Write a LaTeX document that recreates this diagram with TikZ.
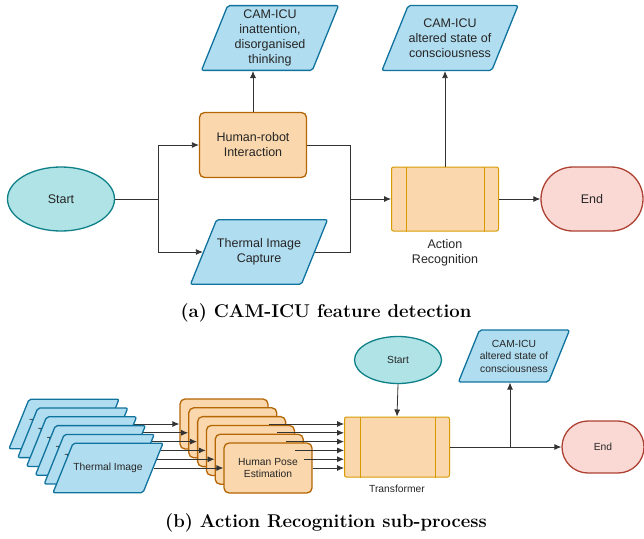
\documentclass[tikz,border=0pt]{standalone}
\usepackage{fontspec}
\setsansfont{Liberation Sans}
\usetikzlibrary{shapes.geometric,arrows.meta}

\definecolor{iofill}{HTML}{B1DDF0}
\definecolor{ioline}{HTML}{10739E}
\definecolor{startfill}{HTML}{B0E3E6}
\definecolor{startline}{HTML}{0E8088}
\definecolor{boxfill}{HTML}{FAD7AC}
\definecolor{boxline}{HTML}{B46504}
\definecolor{procline}{HTML}{D79B00}
\definecolor{endfill}{HTML}{FAD9D5}
\definecolor{endline}{HTML}{AE4132}

\pgfdeclarelayer{back}
\pgfsetlayers{back,main}

\begin{document}
\begin{tikzpicture}[x=1pt, y=-1pt, >={Latex[length=7pt,width=6pt]},
    font=\sffamily\fontsize{12.5}{15}\selectfont, text=black!85,
    line/.style={draw=black!80, line width=0.8pt},
    io/.style={trapezium, trapezium left angle=68, trapezium right angle=112,
        trapezium stretches body, draw=ioline, fill=iofill, line width=1.3pt,
        rounded corners=2pt, align=center, inner xsep=0pt, inner ysep=#1},
    startnode/.style={ellipse, draw=startline, fill=startfill, line width=1.3pt, inner sep=0pt},
    task/.style={rectangle, draw=boxline, fill=boxfill, line width=1.3pt,
        rounded corners=5pt, align=center},
    process/.style={rectangle, draw=procline, fill=boxfill, line width=1pt, rounded corners=2pt},
    terminal/.style={rectangle, draw=endline, fill=endfill, line width=1.3pt},
    caption/.style={font=\rmfamily\bfseries\fontsize{18.5}{22}\selectfont, text=black}]

    \useasboundingbox (0,0) rectangle (644,538);

    % (a) CAM-ICU feature detection
    \node[startnode, minimum width=107pt, minimum height=64pt] (start) at (61,199) {Start};
    \node[task, minimum width=107pt, minimum height=65pt] (hri) at (253,145) {Human-robot\\Interaction};
    \node[io=4.2pt, minimum width=137pt] (inatt) at (270,38)
        {CAM-ICU\\inattention,\\disorganised\\thinking};
    \node[io=19pt, minimum width=137pt] (capture) at (259,252) {Thermal Image\\Capture};
    \node[process, minimum width=107pt, minimum height=64pt] (ar) at (445,199) {};
    \node[below of=ar, node distance=54pt, align=center] (arlabel) {Action\\Recognition};
    \node[io=13pt, minimum width=136pt] (altered) at (450,38)
        {CAM-ICU\\altered state of\\consciousness};
    \node[terminal, rounded corners=32pt, minimum width=102pt, minimum height=64pt] (end) at (592,199) {End};
    \coordinate (split) at (158,199);
    \coordinate (merge) at (350,199);

    \draw[procline, line width=1pt] ([xshift=15pt]ar.north west) -- ([xshift=15pt]ar.south west);
    \draw[procline, line width=1pt] ([xshift=-15pt]ar.north east) -- ([xshift=-15pt]ar.south east);

    % Arrows
    \draw[line] (start.east) -- (split);
    \draw[line, ->] (split) |- (hri.west);
    \draw[line, ->] (split) |- (capture.west);
    \draw[line] (hri.east) -| (merge);
    \draw[line] (capture.east) -| (merge);
    \draw[line, ->] (merge) -- (ar.west);
    \draw[line, ->] (hri.north) -- (hri.north |- inatt.south);
    \draw[line, ->] (ar.north) -- (ar.north |- altered.south);
    \draw[line, ->] (ar.east) -- (end.west);

    \node[caption] (capa) at (326,313) {(a) CAM-ICU feature detection};

    % (b) Action Recognition sub-process
    \begin{scope}[font=\sffamily\fontsize{10.3}{12.5}\selectfont]
    \node[startnode, minimum width=87pt, minimum height=47pt] (start2) at (398,360) {Start};
    \node[io=9.8pt, minimum width=111pt] (altered2) at (514,356)
        {CAM-ICU\\altered state of\\consciousness};
    \node[process, minimum width=105pt, minimum height=60pt] (tr) at (397,447) {};
    \node[below of=tr, node distance=42pt] (trlabel) {Transformer};
    \node[terminal, rounded corners=26pt, minimum width=82pt, minimum height=52pt] (end2) at (603,447) {End};
    \coordinate (split2) at (510,447);

    \draw[procline, line width=1pt] ([xshift=16pt]tr.north west) -- ([xshift=16pt]tr.south west);
    \draw[procline, line width=1pt] ([xshift=-15pt]tr.north east) -- ([xshift=-15pt]tr.south east);

    % Frames, back to front
    \foreach \i in {1,...,6} {
        \node[io=20pt, minimum width=110pt]
            (frame\i) at ({108-(6-\i)*8.8}, {468-(6-\i)*8.8}) {Thermal Image};
    }
    \begin{pgfonlayer}{back}
    \foreach \i in {1,...,5} {
        \node[task, minimum width=88pt, minimum height=50pt]
            (pose\i) at ({268-(6-\i)*8.8}, {468-(6-\i)*8.8}) {};
    }
    \node[task, minimum width=88pt, minimum height=50pt] (pose6) at (268,468) {Human Pose\\Estimation};
    \foreach \i in {1,...,6} {
        \draw[line, ->] (frame\i.east) -- (pose\i.west);
    }
    \end{pgfonlayer}
    \foreach \i in {1,...,6} {
        \draw[line, ->] (pose\i.east) -- (tr.west |- pose\i.east);
    }

    \draw[line, ->] (start2.south) -- (tr.north);
    \draw[line, ->] (tr.east) -- (end2.west);
    \draw[line, ->] (split2) -- (split2 |- altered2.south);
    \end{scope}

    \node[caption] (capb) at (326,523) {(b) Action Recognition sub-process};
\end{tikzpicture}
\end{document}
